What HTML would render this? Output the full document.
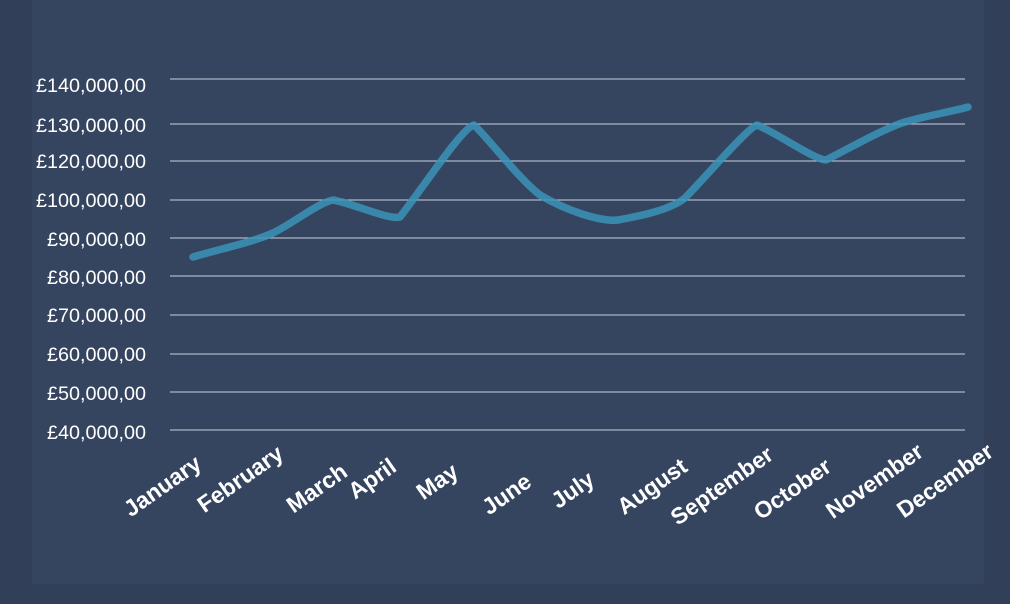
<!DOCTYPE html>
<html><head><style>
html,body{margin:0;padding:0;background:#323f58;}
svg{display:block}
</style></head><body>
<svg width="1010" height="604" xmlns="http://www.w3.org/2000/svg" font-family="Liberation Sans, sans-serif">
<rect width="1010" height="604" fill="#323f58"/>
<rect x="32" y="0" width="952" height="584" fill="#35445f"/>
<g stroke="#c9d0dc" stroke-width="1">
<line x1="170" x2="965" y1="79" y2="79"/>
<line x1="170" x2="965" y1="124" y2="124"/>
<line x1="170" x2="965" y1="161" y2="161"/>
<line x1="170" x2="965" y1="200" y2="200"/>
<line x1="170" x2="965" y1="238" y2="238"/>
<line x1="170" x2="965" y1="276" y2="276"/>
<line x1="170" x2="965" y1="315" y2="315"/>
<line x1="170" x2="965" y1="354" y2="354"/>
<line x1="170" x2="965" y1="392" y2="392"/>
<line x1="170" x2="965" y1="430" y2="430"/>
</g>
<g fill="#ffffff" font-size="19.8" text-anchor="end">
<text x="146" y="92">£140,000,00</text>
<text x="146" y="132">£130,000,00</text>
<text x="146" y="168">£120,000,00</text>
<text x="146" y="207">£100,000,00</text>
<text x="146" y="246">£90,000,00</text>
<text x="146" y="284">£80,000,00</text>
<text x="146" y="322">£70,000,00</text>
<text x="146" y="361">£60,000,00</text>
<text x="146" y="400">£50,000,00</text>
<text x="146" y="439">£40,000,00</text>
</g>
<path fill="none" stroke="#3a93b8" stroke-opacity="0.85" stroke-width="7.5" stroke-linecap="round" stroke-linejoin="round"
d="M193,257 C220,249 250,243 273,233 C295,222 318,203 333,200 C355,204 388,220 400,217 C425,185 462,128 474,125 C488,138 520,180 540,195 C565,210 600,222 618,220 C640,216 670,210 685,198 C710,172 748,128 757,125 C775,132 815,160 826,160 C850,148 885,128 905,122 C930,115 950,112 968,107"/>
<g fill="#ffffff" font-size="23" font-weight="bold" text-anchor="end">
<text transform="translate(203,467) rotate(-35)">January</text>
<text transform="translate(285,457) rotate(-35)">February</text>
<text transform="translate(349,475) rotate(-35)">March</text>
<text transform="translate(398,470) rotate(-35)">April</text>
<text transform="translate(460,475) rotate(-35)">May</text>
<text transform="translate(533,485) rotate(-35)">June</text>
<text transform="translate(596,483) rotate(-35)">July</text>
<text transform="translate(689,470) rotate(-35)">August</text>
<text transform="translate(775,458) rotate(-35)">September</text>
<text transform="translate(833,470) rotate(-35)">October</text>
<text transform="translate(925,455) rotate(-35)">November</text>
<text transform="translate(995,455) rotate(-35)">December</text>
</g>
</svg>
</body></html>
